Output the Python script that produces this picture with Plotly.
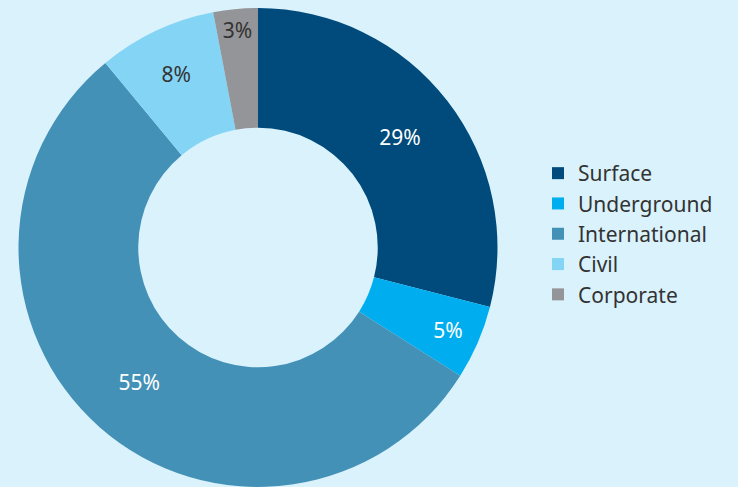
import plotly.graph_objects as go

labels = ["Surface", "Underground", "International", "Civil", "Corporate"]
values = [29, 5, 55, 8, 3]
colors = ["#004b7b", "#00aeef", "#4391b7", "#84d4f6", "#939598"]
text_colors = ["#ffffff", "#ffffff", "#ffffff", "#333333", "#333333"]

W, H = 738, 487
FONT = "Noto Sans"
fig = go.Figure(go.Pie(
    labels=labels,
    values=values,
    hole=0.5,
    sort=False,
    direction="clockwise",
    rotation=0,
    marker=dict(colors=colors, line=dict(width=0)),
    textinfo="percent",
    texttemplate="%{percent:.0%}",
    textposition="inside",
    insidetextorientation="horizontal",
    textfont=dict(color=text_colors, size=21, family=FONT),
    domain=dict(x=[18 / W, 498 / W], y=[0, 479 / H]),
))
fig.update_layout(
    width=W, height=H,
    margin=dict(l=0, r=0, t=0, b=0),
    paper_bgcolor="#d9f2fc",
    plot_bgcolor="#d9f2fc",
    font=dict(family=FONT, color="#333333"),
    legend=dict(
        x=538 / W, xanchor="left",
        y=1 - 234 / H, yanchor="middle",
        font=dict(size=21, color="#333333", family=FONT),
        bgcolor="rgba(0,0,0,0)",
        tracegroupgap=0,
        itemwidth=30,
    ),
    uniformtext=dict(minsize=21, mode="show"),
)
fig.write_html("out.html")
